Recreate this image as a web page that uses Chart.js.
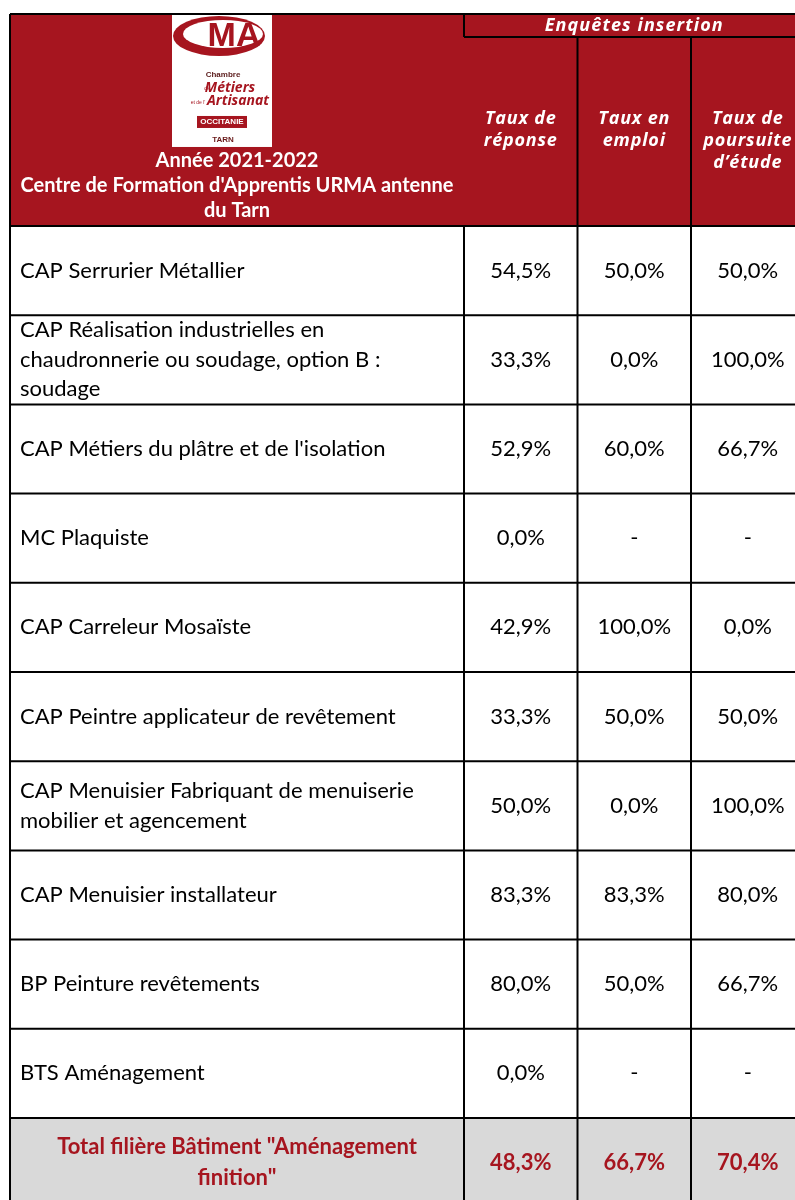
<!DOCTYPE html>
<html>
<head>
<meta charset="utf-8">
<script src="https://cdn.jsdelivr.net/npm/chart.js@4.4.0/dist/chart.umd.min.js"></script>
<style>
  body { margin: 0; background: #fff; }
  #wrap { width: 795px; height: 1200px; }
</style>
</head>
<body>
<div id="wrap"><canvas id="canvas" width="795" height="1200"></canvas></div>
<script>
// formations (left column), already wrapped like in the original
const formations = [
    ['CAP Serrurier Métallier'],
    ['CAP Réalisation industrielles en', 'chaudronnerie ou soudage, option B :', 'soudage'],
    ["CAP Métiers du plâtre et de l'isolation"],
    ['MC Plaquiste'],
    ['CAP Carreleur Mosaïste'],
    ['CAP Peintre applicateur de revêtement'],
    ['CAP Menuisier Fabriquant de menuiserie', 'mobilier et agencement'],
    ['CAP Menuisier installateur'],
    ['BP Peinture revêtements'],
    ['BTS Aménagement'],
]
const totalLabel = ['Total filière Bâtiment "Aménagement', 'finition"']

const columns = [
    ['Taux de', 'réponse'],
    ['Taux en', 'emploi'],
    ['Taux de', 'poursuite', 'd’étude'],
]
// null = "-"
const tauxReponse   = [54.5, 33.3, 52.9, 0.0, 42.9, 33.3, 50.0, 83.3, 80.0, 0.0]
const tauxEmploi    = [50.0, 0.0, 60.0, null, 100.0, 50.0, 0.0, 83.3, 50.0, null]
const tauxPoursuite = [50.0, 100.0, 66.7, null, 0.0, 50.0, 100.0, 80.0, 66.7, null]
const totals = [48.3, 66.7, 70.4]

const RED = '#a6151f'
const GREY = '#d9d9d9'
const BODY_FONT = 'Lato'

// grid units: label column is 4 units wide, each rate column 1 unit; one unit of y = one row
const HEADER_TOP = -2.377
const SUBHEAD_BOTTOM = -2.119
const nRows = formations.length + 1

function fmt(v) {
    if (v === null) return '-'
    return v.toFixed(1).replace('.', ',') + '%'
}

function points(values, col, total) {
    const pts = values.map((v, i) => ({ x: 4 + col + 0.5, y: i + 0.5, v: v }))
    pts.push({ x: 4 + col + 0.5, y: values.length + 0.5, v: total, total: true })
    return pts
}

const series = [tauxReponse, tauxEmploi, tauxPoursuite]

const tablePlugin = {
    id: 'table',
    beforeDatasetsDraw(chart) {
        const ctx = chart.ctx
        const xs = chart.scales.x, ys = chart.scales.y
        const X = v => xs.getPixelForValue(v)
        const Y = v => ys.getPixelForValue(v)
        const left = X(0), right = X(7)
        const top = Y(HEADER_TOP), hb = Y(0), bottom = Y(nRows)
        ctx.save()
        // header + total backgrounds
        ctx.fillStyle = RED
        ctx.fillRect(left, top, right - left, hb - top)
        ctx.fillStyle = GREY
        ctx.fillRect(left, Y(nRows - 1), right - left, Y(nRows) - Y(nRows - 1))

        drawLogo(ctx, (X(0) + X(4)) / 2, top)

        // header texts
        ctx.fillStyle = '#fff'
        ctx.textAlign = 'center'
        ctx.textBaseline = 'middle'
        const cx0 = (X(0) + X(4)) / 2
        ctx.font = 'bold 20px ' + BODY_FONT
        ctx.fillText('Année 2021-2022', cx0, top + 147)
        ctx.fillText("Centre de Formation d'Apprentis URMA antenne", cx0, top + 172)
        ctx.fillText('du Tarn', cx0, top + 197)

        ctx.font = 'italic bold 18px "Open Sans"'
        ctx.letterSpacing = '1.1px'
        ctx.fillText('Enquêtes insertion', (X(4) + X(7)) / 2, top + 12)
        ctx.letterSpacing = '0.8px'
        columns.forEach((lines, c) => {
            const cx = X(4 + c + 0.5)
            lines.forEach((t, k) => ctx.fillText(t, cx, top + 105 + k * 22))
        })
        ctx.letterSpacing = '0px'

        // row labels
        ctx.fillStyle = '#000'
        ctx.textAlign = 'left'
        ctx.font = '22px ' + BODY_FONT
        formations.forEach((lines, i) => {
            const cy = Y(i + 0.5)
            lines.forEach((t, k) => ctx.fillText(t, left + 10, cy + (k - (lines.length - 1) / 2) * 29.5))
        })
        ctx.fillStyle = RED
        ctx.textAlign = 'center'
        ctx.font = 'bold 22px ' + BODY_FONT
        totalLabel.forEach((t, k) => ctx.fillText(t, cx0, Y(nRows - 0.5) + (k - 0.5) * 31))

        // grid
        ctx.strokeStyle = '#000'
        ctx.lineWidth = 2
        ctx.beginPath()
        ctx.moveTo(left, top); ctx.lineTo(right, top)
        ctx.moveTo(left, top); ctx.lineTo(left, bottom)
        ctx.moveTo(X(4), top); ctx.lineTo(X(4), Y(SUBHEAD_BOTTOM))
        ctx.moveTo(X(4), Y(SUBHEAD_BOTTOM)); ctx.lineTo(right, Y(SUBHEAD_BOTTOM))
        ctx.moveTo(X(4), hb); ctx.lineTo(X(4), bottom)
        for (let c = 5; c <= 7; c++) {
            ctx.moveTo(X(c), Y(SUBHEAD_BOTTOM)); ctx.lineTo(X(c), bottom)
        }
        for (let r = 0; r <= nRows; r++) {
            ctx.moveTo(left, Y(r)); ctx.lineTo(right, Y(r))
        }
        ctx.stroke()
        ctx.restore()
    },
    afterDatasetsDraw(chart) {
        const ctx = chart.ctx
        ctx.save()
        ctx.textAlign = 'center'
        ctx.textBaseline = 'middle'
        chart.data.datasets.forEach((ds, d) => {
            chart.getDatasetMeta(d).data.forEach((el, i) => {
                const p = ds.data[i]
                ctx.fillStyle = p.total ? RED : '#000'
                ctx.font = (p.total ? 'bold ' : '') + '22px ' + BODY_FONT
                ctx.fillText(fmt(p.v), el.x, el.y)
            })
        })
        ctx.restore()
    }
}

function drawLogo(ctx, cx, top) {
    const x0 = cx - 65, y0 = top + 1
    ctx.fillStyle = '#fff'
    ctx.fillRect(x0, y0, 100, 132)
    // the "C" swoosh
    ctx.fillStyle = RED
    ctx.beginPath()
    ctx.ellipse(x0 + 47, y0 + 21, 46, 20, 0, 0, Math.PI * 2)
    ctx.fill()
    ctx.fillStyle = '#fff'
    ctx.beginPath()
    ctx.ellipse(x0 + 51, y0 + 19, 40, 14, 0, 0, Math.PI * 2)
    ctx.fill()
    ctx.fillStyle = RED
    ctx.textAlign = 'center'
    ctx.textBaseline = 'middle'
    ctx.font = 'bold 34px "Liberation Sans Narrow", "Liberation Sans"'
    ctx.fillText('MA', x0 + 62, y0 + 22)
    ctx.fillStyle = '#5a1a1a'
    ctx.font = 'bold 8px "Liberation Sans"'
    ctx.fillText('Chambre', x0 + 51, y0 + 60)
    ctx.fillStyle = RED
    ctx.font = 'italic bold 14px "Open Sans"'
    ctx.fillText('Métiers', x0 + 58, y0 + 73)
    ctx.fillText('Artisanat', x0 + 66, y0 + 86)
    ctx.font = '5px "Liberation Sans"'
    ctx.fillText('de', x0 + 35, y0 + 74)
    ctx.fillText('et de l’', x0 + 26, y0 + 88)
    ctx.fillRect(x0 + 25, y0 + 101, 50, 12)
    ctx.fillStyle = '#fff'
    ctx.font = 'bold 8px "Liberation Sans Narrow", "Liberation Sans"'
    ctx.fillText('OCCITANIE', x0 + 50, y0 + 107)
    ctx.fillStyle = '#6a1a1a'
    ctx.fillText('TARN', x0 + 51, y0 + 125)
}

const data = {
    datasets: series.map((s, c) => ({
        label: columns[c].join(' '),
        data: points(s, c, totals[c]),
        pointRadius: 0,
        showLine: false,
    })),
}

const config = {
    type: 'scatter',
    data: data,
    options: {
        responsive: false,
        animation: false,
        devicePixelRatio: 1,
        layout: { padding: 0 },
        plugins: { legend: { display: false }, tooltip: { enabled: false } },
        scales: {
            x: { type: 'linear', display: false, min: -10 / 113.5, max: 785 / 113.5 },
            y: { type: 'linear', display: false, reverse: true, min: -226 / 89.2, max: 974 / 89.2 },
        },
    },
    plugins: [tablePlugin],
}

const canvas = document.getElementById('canvas')
const chart = new Chart(canvas, config)
</script>
</body>
</html>
